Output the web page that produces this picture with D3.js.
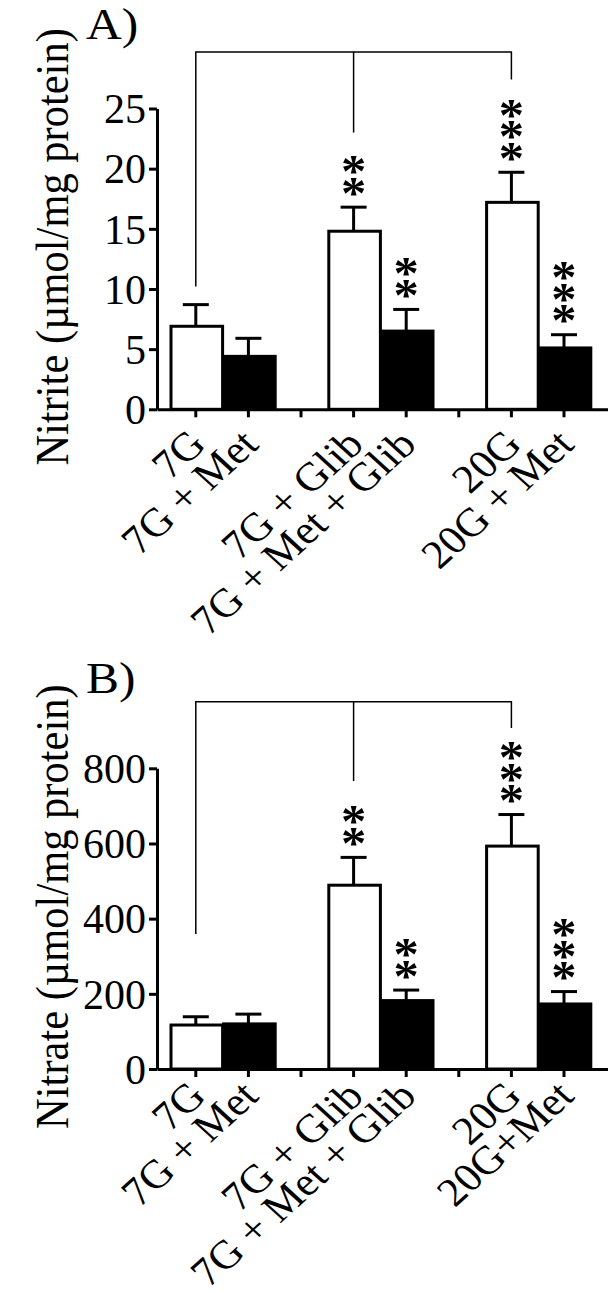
<!DOCTYPE html>
<html>
<head>
<meta charset="utf-8">
<script src="https://cdn.jsdelivr.net/npm/d3@7"></script>
<style>
  html, body { margin: 0; padding: 0; background: #fff; }
  svg { display: block; }
  text { font-family: "Liberation Serif", "Times New Roman", serif; fill: #000; }
</style>
</head>
<body>
<svg id="chart" width="608" height="1304"></svg>
<script>
// ---------------- data ----------------
const categoriesA = ["7G", "7G + Met", "7G + Glib", "7G + Met + Glib", "20G", "20G + Met"];
const categoriesB = ["7G", "7G + Met", "7G + Glib", "7G + Met + Glib", "20G", "20G+Met"];
const withMetformin = [false, true, false, true, false, true];
const nitriteMean = [6.9, 4.4, 14.8, 6.5, 17.2, 5.1];
const nitriteSEM  = [1.8, 1.5, 2.0, 1.8, 2.5, 1.1];
const nitrateMean = [117, 120, 489, 182, 593, 173];
const nitrateSEM  = [22, 26, 74, 28, 84, 33];
const significance = [0, 0, 2, 2, 3, 3];          // number of asterisks
const nitriteTicks = [0, 5, 10, 15, 20, 25];
const nitrateTicks = [0, 200, 400, 600, 800];
// comparison bracket levels (data units): top bar, drop at control, drop at 7G+Glib, drop at 20G
const bracketA = { top: 29.7, control: 10.2, mid: 23.0, right: 27.4 };
const bracketB = { top: 977, control: 359, mid: 766, right: 907 };

// ---------------- layout ----------------
const SX = 1.1;                 // original figure is slightly stretched horizontally
const STAR_FS = 46, STAR_PITCH = 21.5;
const svg = d3.select("#chart");
svg.append("rect").attr("width", 608).attr("height", 1304).attr("fill", "#fff");

// slot domain with a gap after every pair
function slotDomain(cats) {
  const d = [];
  cats.forEach((c, i) => { d.push(c); if (i % 2 === 1) d.push("__gap" + i); });
  return d;
}

function drawPanel(cfg) {
  const g = svg.append("g");
  const domain = slotDomain(cfg.categories);
  const x = d3.scaleBand().domain(domain).range([157, 655.4]).paddingInner(0).paddingOuter(0.2376);
  const y = d3.scaleLinear().domain(cfg.yDomain).range(cfg.yRange);
  const bw = x.bandwidth();
  const cx = c => x(c) + bw / 2;

  // y axis
  const yAxis = g.append("g").attr("transform", "translate(157,0)")
    .call(d3.axisLeft(y).tickValues(cfg.ticks).tickSize(8).tickSizeOuter(0).tickPadding(3));
  yAxis.select(".domain").attr("stroke", "#000").attr("stroke-width", 3);
  yAxis.selectAll(".tick line").attr("stroke", "#000").attr("stroke-width", 3);
  yAxis.selectAll(".tick text")
    .attr("font-size", 42).attr("font-family", "Liberation Serif")
    .attr("dy", "0.34em");

  // x axis
  const xAxis = g.append("g").attr("transform", "translate(0," + y(0) + ")")
    .call(d3.axisBottom(x).tickSize(8).tickSizeOuter(0).tickFormat(""));
  xAxis.select(".domain").attr("stroke", "#000").attr("stroke-width", 3);
  xAxis.selectAll(".tick line").attr("stroke", "#000").attr("stroke-width", 3);

  const rows = cfg.categories.map((c, i) => ({
    c, mean: cfg.mean[i], sem: cfg.sem[i], met: withMetformin[i], stars: significance[i]
  }));

  // error bars (drawn first so the bar outline sits on top)
  rows.forEach(r => {
    g.append("line").attr("x1", cx(r.c)).attr("x2", cx(r.c))
      .attr("y1", y(r.mean)).attr("y2", y(r.mean + r.sem))
      .attr("stroke", "#000").attr("stroke-width", 3);
    g.append("line").attr("x1", cx(r.c) - 13).attr("x2", cx(r.c) + 13)
      .attr("y1", y(r.mean + r.sem)).attr("y2", y(r.mean + r.sem))
      .attr("stroke", "#000").attr("stroke-width", 3);
  });

  // bars
  g.selectAll("rect.bar").data(rows).enter().append("rect")
    .attr("class", "bar")
    .attr("x", d => x(d.c) + 1.5)
    .attr("width", bw - 1)
    .attr("y", d => y(d.mean))
    .attr("height", d => y(0) - y(d.mean))
    .attr("fill", d => d.met ? "#000" : "#fff")
    .attr("stroke", "#000").attr("stroke-width", 3);

  // significance asterisks: one vertical run of upright asterisks per bar
  rows.filter(r => r.stars > 0).forEach(r => {
    const base = y(r.mean + r.sem) - 21;   // centre of the lowest asterisk
    g.append("text")
      .attr("font-size", STAR_FS).attr("font-weight", "bold")
      .attr("letter-spacing", STAR_PITCH - STAR_FS * 0.5)
      .attr("rotate", 90)
      .attr("x", -0.49 * STAR_FS).attr("y", -0.25 * STAR_FS)
      .attr("transform", "translate(" + cx(r.c) + "," + base + ") scale(" + SX + ",1) rotate(-90)")
      .text("*".repeat(r.stars));
  });

  // comparison bracket
  const b = cfg.bracket;
  const c0 = cx(cfg.categories[0]), c2 = cx(cfg.categories[2]), c4 = cx(cfg.categories[4]);
  const bl = g.append("g").attr("stroke", "#000").attr("stroke-width", 1.5).attr("fill", "none");
  bl.append("path").attr("d",
    "M" + c0 + "," + y(b.control) + "V" + y(b.top) + "H" + c4 + "V" + y(b.right));
  bl.append("line").attr("x1", c2).attr("x2", c2).attr("y1", y(b.top)).attr("y2", y(b.mid));

  // x category labels
  cfg.categories.forEach(c => {
    g.append("text").attr("text-anchor", "end").attr("font-size", 40)
      .attr("transform", "translate(" + (cx(c) + 12) + "," + (y(0) + cfg.labelDy) + ") scale(" + SX + ",1) rotate(-45)")
      .text(c);
  });

  // y title
  const yMid = (cfg.yRange[0] + cfg.yRange[1]) / 2 - 12;
  g.append("text").attr("text-anchor", "middle").attr("font-size", 42.5)
    .attr("transform", "translate(68," + yMid + ") scale(" + SX + ",1) rotate(-90)")
    .text(cfg.title);

  // panel letter
  g.append("text").attr("font-size", 45)
    .attr("transform", "translate(86," + cfg.letterY + ") scale(" + SX + ",1)")
    .text(cfg.letter);
}

drawPanel({
  categories: categoriesA, mean: nitriteMean, sem: nitriteSEM,
  yDomain: [0, 25], yRange: [409.3, 108.5], ticks: nitriteTicks,
  bracket: bracketA, title: "Nitrite (\u00b5mol/mg protein)", letter: "A)", letterY: 39, labelDy: 37
});
drawPanel({
  categories: categoriesB, mean: nitrateMean, sem: nitrateSEM,
  yDomain: [0, 800], yRange: [1069, 768.3], ticks: nitrateTicks,
  bracket: bracketB, title: "Nitrate (\u00b5mol/mg protein)", letter: "B)", letterY: 693, labelDy: 29
});
</script>
</body>
</html>
